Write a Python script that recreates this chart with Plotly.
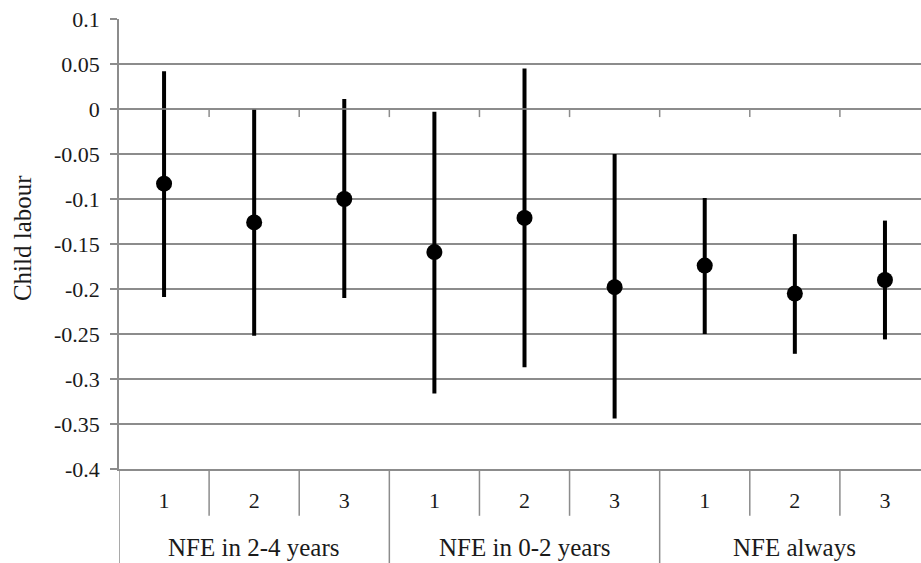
import plotly.graph_objects as go

groups = ["NFE in 2-4 years", "NFE in 0-2 years", "NFE always"]
subcats = ["1", "2", "3"]
estimate = [-0.083, -0.126, -0.100, -0.159, -0.121, -0.198, -0.174, -0.205, -0.190]
upper = [0.042, 0.000, 0.011, -0.003, 0.045, -0.050, -0.099, -0.139, -0.124]
lower = [-0.209, -0.252, -0.210, -0.316, -0.287, -0.344, -0.250, -0.272, -0.256]
y_ticks = [0.1, 0.05, 0, -0.05, -0.1, -0.15, -0.2, -0.25, -0.3, -0.35, -0.4]
y_title = "Child labour"

FONT = "Liberation Serif"
FS_NUM = 22
FS_TXT = 25
GRID = "#8c8c8c"
TXT = "#1a1a1a"

n_sub = len(subcats)
xs = list(range(len(groups) * n_sub))
tick_text = [subcats[i % n_sub] for i in xs]

fig = go.Figure()
fig.add_trace(go.Scatter(
    x=xs, y=estimate, mode="markers",
    marker=dict(color="black", size=16),
    error_y=dict(type="data", symmetric=False,
                 array=[u - e for u, e in zip(upper, estimate)],
                 arrayminus=[e - l for e, l in zip(estimate, lower)],
                 color="black", thickness=4, width=0),
    showlegend=False, hoverinfo="skip",
))

shapes = []
for k in range(1, len(xs)):
    shapes.append(dict(type="line", xref="x", yref="y", x0=k - 0.5, x1=k - 0.5,
                       y0=0, y1=-0.009, line=dict(color=GRID, width=1.5)))
for k in range(len(xs) + 1):
    is_group = (k % n_sub == 0)
    shapes.append(dict(type="line", xref="x", yref="paper", x0=k - 0.5, x1=k - 0.5,
                       y0=0, y1=-0.215 if is_group else -0.104,
                       line=dict(color=GRID, width=1.5)))
shapes.append(dict(type="line", xref="paper", yref="y", x0=0, x1=1, y0=0, y1=0,
                   line=dict(color=GRID, width=1.5)))

annotations = []
for g, name in enumerate(groups):
    annotations.append(dict(x=g * n_sub + (n_sub - 1) / 2, y=-0.175, xref="x", yref="paper",
                            text=name, showarrow=False, yanchor="middle",
                            font=dict(family=FONT, size=FS_TXT, color=TXT)))
annotations.append(dict(x=-0.121, y=0.513, xref="paper", yref="paper", text=y_title,
                        textangle=-90, showarrow=False, xanchor="center", yanchor="middle",
                        font=dict(family=FONT, size=FS_TXT, color=TXT)))

fig.update_layout(
    width=921, height=563,
    margin=dict(l=119, r=0, t=19, b=94),
    paper_bgcolor="white", plot_bgcolor="white",
    font=dict(family=FONT, size=FS_NUM, color=TXT),
    shapes=shapes, annotations=annotations,
    xaxis=dict(range=[-0.5, 8.40], tickvals=xs, ticktext=tick_text,
               showgrid=False, zeroline=False, showline=True, linecolor=GRID, linewidth=1.5,
               ticks="", ticklabelstandoff=11, tickfont=dict(family=FONT, size=FS_NUM, color=TXT)),
    yaxis=dict(range=[-0.4, 0.1], tickvals=y_ticks, ticktext=[f"{v:g}" for v in y_ticks],
               showgrid=True, gridcolor=GRID, gridwidth=1.5, zeroline=False,
               showline=True, linecolor=GRID, linewidth=1.5,
               ticks="outside", ticklen=7, tickcolor=GRID, tickwidth=1.5,
               ticklabelstandoff=6,
               tickfont=dict(family=FONT, size=FS_NUM, color=TXT)),
)

fig.write_html("out.html")
